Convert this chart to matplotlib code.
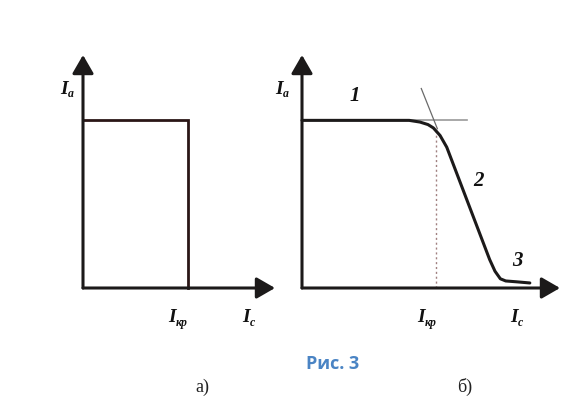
import numpy as np
import matplotlib
matplotlib.use("Agg")
import matplotlib.pyplot as plt

# panel a): ideal characteristic
ic_a = [0, 1.0, 1.0]
ia_a = [1.0, 1.0, 0]

# panel b): real characteristic (Ic in units of Ikr, Ia in units of plateau)
ic_b = [0, 0.80, 0.88, 0.94, 0.98, 1.03, 1.08, 1.40, 1.44, 1.48, 1.52, 1.60, 1.70]
ia_b = [1.0, 1.0, 0.99, 0.975, 0.955, 0.91, 0.84, 0.17, 0.10, 0.055, 0.042, 0.037, 0.03]
tangent_x = [0.89, 1.01]
tangent_y = [1.19, 0.95]
plateau_x = [0.80, 1.23]
ikr_b = 1.0
ikr_top = 0.96

W, H = 584, 400
line_c = "#1c1a1a"
serif = "Liberation Serif"

fig = plt.figure(figsize=(W / 100, H / 100), dpi=100)
fig.patch.set_facecolor("white")


def make_axes(ox, oy, tipx, xmax, ymax=1.39, tipy=55):
    # ox, oy: origin in pixels; tipx/tipy: arrow tips in pixels
    ax = fig.add_axes([ox / W, 1 - oy / H, (tipx - ox) / W, (oy - tipy) / H])
    ax.set_xlim(0, xmax)
    ax.set_ylim(0, ymax)
    ax.axis("off")
    arr = dict(arrowstyle="-|>,head_length=0.45,head_width=0.26", mutation_scale=25,
               lw=2.2, color=line_c, shrinkA=0, shrinkB=0)
    ax.annotate("", xy=(xmax, 0), xytext=(0, 0), arrowprops=arr, annotation_clip=False)
    ax.annotate("", xy=(0, ymax), xytext=(0, 0), arrowprops=arr, annotation_clip=False)
    return ax


ax1 = make_axes(83, 288, 275, 1.83)
ax1.plot(ic_a, ia_a, color="#2a1616", lw=2.0, solid_joinstyle="miter", clip_on=False)

ax2 = make_axes(302, 288, 560, 1.925)
ax2.plot(plateau_x, [1.0, 1.0], color="#9a9a9a", lw=1.2, clip_on=False)
ax2.plot(tangent_x, tangent_y, color="#6a6a6a", lw=0.9, clip_on=False)
ax2.plot([ikr_b, ikr_b], [0, ikr_top], color="#a08080", lw=1.0, ls=(0, (1.5, 2)), clip_on=False)
ax2.plot(ic_b, ia_b, color=line_c, lw=2.2, solid_joinstyle="round", solid_capstyle="round",
         clip_on=False)


def sym(x, y, sub):
    fig.text(x / W, 1 - y / H, "I", family=serif, style="italic", weight="bold",
             fontsize=14, ha="center", va="center", color="#111")
    fig.text((x + 4) / W, 1 - (y + 5) / H, sub, family=serif, style="italic",
             weight="bold", fontsize=8.5, ha="left", va="center", color="#111")


sym(64, 89, "a")
sym(279, 89, "a")
sym(172, 318, "кр")
sym(246, 318, "c")
sym(421, 318, "кр")
sym(514, 318, "c")

for txt, x, y in [("1", 355, 96), ("2", 478, 181), ("3", 517, 261)]:
    fig.text(x / W, 1 - y / H, txt, family=serif, style="italic", weight="bold",
             fontsize=15, ha="center", va="center", color="#111")

fig.text(202 / W, 1 - 387 / H, "а)", family=serif, fontsize=13, ha="center",
         va="center", color="#222")
fig.text(465 / W, 1 - 387 / H, "б)", family=serif, fontsize=13, ha="center",
         va="center", color="#222")
fig.text(333 / W, 1 - 364 / H, "Рис. 3", family="Open Sans", weight="bold",
         fontsize=13, ha="center", va="center", color="#4a84c4")

fig.savefig("out.png", dpi=100, facecolor="white")
